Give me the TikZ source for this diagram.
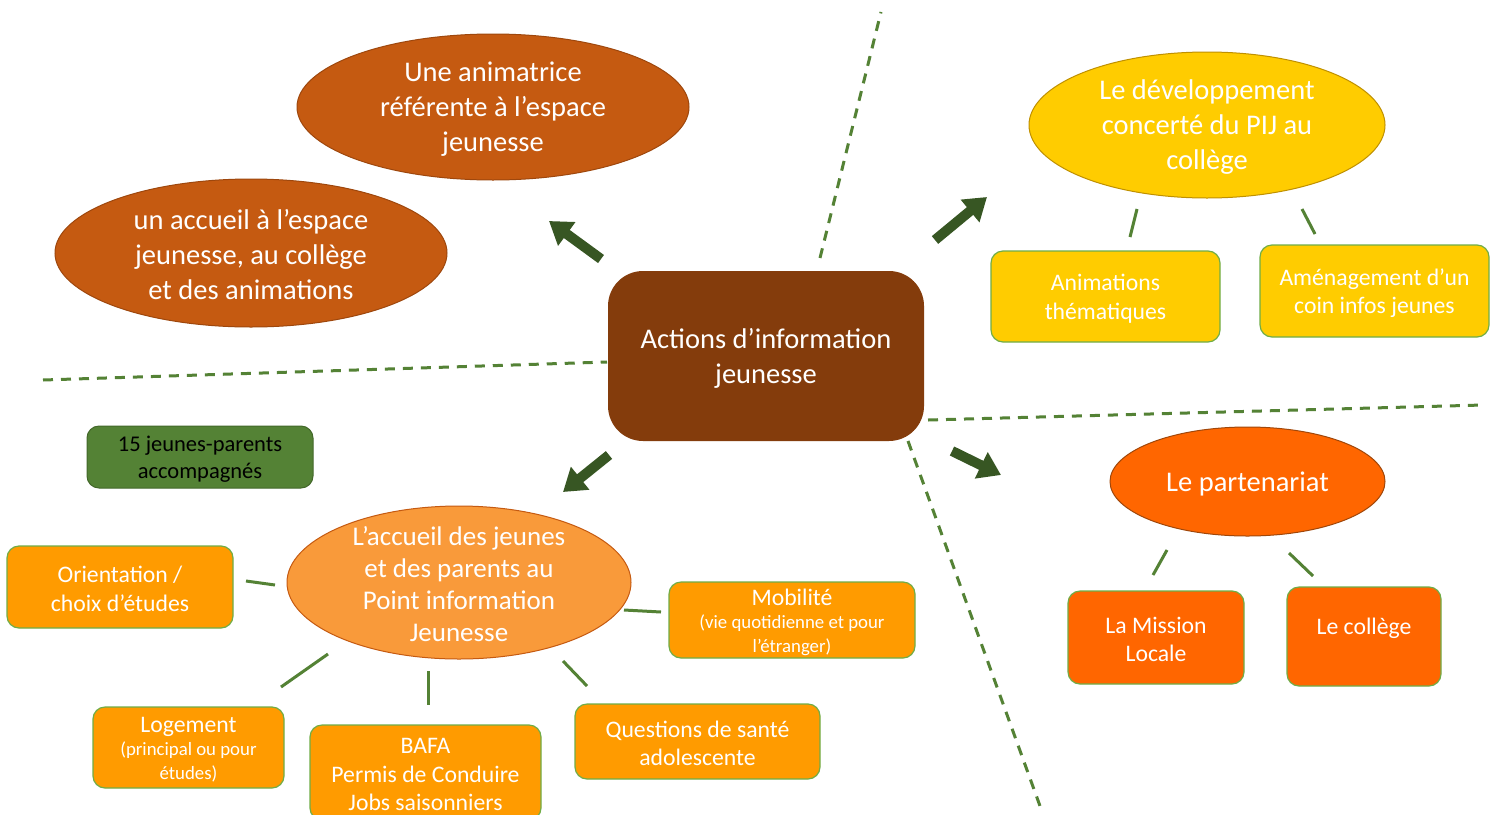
\documentclass[tikz,border=0pt]{standalone}
\usepackage{fontspec}
\setmainfont{Carlito}
\usetikzlibrary{shapes.geometric,arrows.meta}
\definecolor{brownc}{HTML}{843C0C}
\definecolor{rust}{HTML}{C55A11}
\definecolor{rustline}{HTML}{9E470D}
\definecolor{yel}{HTML}{FFCC00}
\definecolor{yelline}{HTML}{BF9000}
\definecolor{orng}{HTML}{FF6600}
\definecolor{orngline}{HTML}{A0470A}
\definecolor{lorng}{HTML}{F99A3A}
\definecolor{lorngline}{HTML}{C55A11}
\definecolor{boxor}{HTML}{FF9B00}
\definecolor{gline}{HTML}{548235}
\definecolor{gbox}{HTML}{548235}
\definecolor{garrow}{HTML}{375623}
\definecolor{gborder}{HTML}{70AD47}
\newcommand{\fbig}{\fontsize{28.5}{35}\selectfont}
\newcommand{\fell}{\fontsize{27}{32}\selectfont}
\newcommand{\fmid}{\fontsize{23.7}{28.5}\selectfont}
\newcommand{\fsml}{\fontsize{18.8}{23.5}\selectfont}
\begin{document}
\begin{tikzpicture}[x=1pt,y=-1pt,
  ell/.style={ellipse, inner sep=0pt, line width=1pt},
  txt/.style={text=white, align=center, inner sep=0pt, yshift=-2pt},
  box/.style={rounded corners=12pt, draw=gborder, line width=1.2pt, inner sep=0pt, text=white, align=center},
  link/.style={draw=gline, line width=3pt},
  sepline/.style={draw=gline, line width=3pt, dash pattern=on 10pt off 8pt},
  bigarrow/.style={draw=garrow, line width=10pt, -{Triangle[width=28pt,length=22pt]}},
]
\useasboundingbox[fill=white] (0,0) rectangle (1498,814);

% separators
\coordinate (s1a) at (43,380);   \coordinate (s1b) at (607,362);
\coordinate (s2a) at (820,258);  \coordinate (s2b) at (881,12);
\coordinate (s3a) at (928,420);  \coordinate (s3b) at (1483,405);
\coordinate (s4a) at (908,441);  \coordinate (s4b) at (1040,806);
\draw[sepline] (s1a) -- (s1b);
\draw[sepline] (s2a) -- (s2b);
\draw[sepline] (s3a) -- (s3b);
\draw[sepline] (s4a) -- (s4b);

% central node
\node[fill=brownc, rounded corners=35pt, minimum width=316pt, minimum height=170pt, inner sep=0pt] (center) at (766,356) {};
\node[txt, font=\fbig] (centert) at (center) {Actions d’information\\jeunesse};

% top-left group
\node[ell, fill=rust, draw=rustline, minimum width=392pt, minimum height=146pt] (anim) at (493,107) {};
\node[txt, font=\fbig] (animt) at (anim) {Une animatrice\\référente à l’espace\\jeunesse};
\node[ell, fill=rust, draw=rustline, minimum width=392pt, minimum height=148pt] (acc) at (251,253) {};
\node[txt, font=\fbig] (acct) at (acc) {un accueil à l’espace\\jeunesse, au collège\\et des animations};

% top-right group
\node[ell, fill=yel, draw=yelline, minimum width=356pt, minimum height=146pt] (dev) at (1207,125) {};
\node[txt, font=\fbig] (devt) at (dev) {Le développement\\concerté du PIJ au\\collège};
\node[box, fill=yel, minimum width=229pt, minimum height=91pt] (anth) at (1105.5,296.5) {};
\node[txt, font=\fmid] (antht) at (anth) {Animations\\thématiques};
\node[box, fill=yel, minimum width=229pt, minimum height=92pt] (amen) at (1374.5,291) {};
\node[txt, font=\fmid] (ament) at (amen) {Aménagement d’un\\coin infos jeunes};
\coordinate (d1a) at (1137,209); \coordinate (d1b) at (1130,237);
\coordinate (d2a) at (1302,209); \coordinate (d2b) at (1315,234);
\draw[link] (d1a) -- (d1b);
\draw[link] (d2a) -- (d2b);

% bottom-right group
\node[ell, fill=orng, draw=orngline, minimum width=275pt, minimum height=109pt] (part) at (1247.5,481.5) {};
\node[txt, font=\fbig] (partt) at (part) {Le partenariat};
\node[box, fill=orng, minimum width=176pt, minimum height=93pt] (mission) at (1156,637.5) {};
\node[txt, font=\fmid] (missiont) at (mission) {La Mission\\Locale};
\node[box, fill=orng, minimum width=154pt, minimum height=99pt] (college) at (1364,636.5) {};
\node[txt, font=\fmid, anchor=base] (colleget) at (1364,632) {Le collège};
\coordinate (p1a) at (1167,550); \coordinate (p1b) at (1153,575);
\coordinate (p2a) at (1289,553); \coordinate (p2b) at (1313,576);
\draw[link] (p1a) -- (p1b);
\draw[link] (p2a) -- (p2b);

% bottom-left group
\node[rounded corners=12pt, fill=gbox, draw=gline!80!black, line width=1pt, minimum width=226pt, minimum height=62pt, inner sep=0pt] (parents) at (200,457) {};
\node[txt, text=black, font=\fontsize{22.5}{27}\selectfont] (parentst) at (parents) {15 jeunes-parents\\accompagnés};
\node[ell, fill=lorng, draw=lorngline, minimum width=344pt, minimum height=153pt] (pij) at (459,582.5) {};
\node[txt, font=\fell] (pijt) at (pij) {L’accueil des jeunes\\et des parents au\\Point information\\Jeunesse};
\node[box, fill=boxor, minimum width=226pt, minimum height=82pt] (orient) at (120,587) {};
\node[txt, font=\fmid] (orientt) at (orient) {Orientation /\\choix d’études};
\node[box, fill=boxor, minimum width=191pt, minimum height=81pt] (logement) at (188.5,747.5) {};
\node[txt, font=\fsml] (logementt) at (logement) {{\fontsize{23.7}{23.5}\selectfont Logement}\\(principal ou pour\\études)};
\node[box, fill=boxor, minimum width=231pt, minimum height=95pt] (bafa) at (425.5,772.5) {};
\node[txt, font=\fmid] (bafat) at (bafa) {BAFA\\Permis de Conduire\\Jobs saisonniers};
\node[box, fill=boxor, minimum width=245pt, minimum height=75pt] (sante) at (697.5,741.5) {};
\node[txt, font=\fmid] (santet) at (sante) {Questions de santé\\adolescente};
\node[box, fill=boxor, minimum width=246pt, minimum height=76pt] (mobil) at (792,620) {};
\node[txt, font=\fsml] (mobilt) at (mobil) {{\fontsize{23.7}{23.5}\selectfont Mobilité}\\(vie quotidienne et pour\\l’étranger)};
\coordinate (b1a) at (246,581); \coordinate (b1b) at (275,585);
\coordinate (b2a) at (281,687); \coordinate (b2b) at (328,654);
\coordinate (b3a) at (428,671); \coordinate (b3b) at (428,705);
\coordinate (b4a) at (563,661); \coordinate (b4b) at (587,686);
\coordinate (b5a) at (624,610); \coordinate (b5b) at (661,612);
\draw[link] (b1a) -- (b1b);
\draw[link] (b2a) -- (b2b);
\draw[link] (b3a) -- (b3b);
\draw[link] (b4a) -- (b4b);
\draw[link] (b5a) -- (b5b);

% big arrows
\coordinate (a1s) at (601,259); \coordinate (a1e) at (549,221);
\coordinate (a2s) at (935,240); \coordinate (a2e) at (987,197);
\coordinate (a3s) at (609,455); \coordinate (a3e) at (563,492);
\coordinate (a4s) at (952,451); \coordinate (a4e) at (1001,475);
\draw[bigarrow] (a1s) -- (a1e);
\draw[bigarrow] (a2s) -- (a2e);
\draw[bigarrow] (a3s) -- (a3e);
\draw[bigarrow] (a4s) -- (a4e);
\end{tikzpicture}
\end{document}
